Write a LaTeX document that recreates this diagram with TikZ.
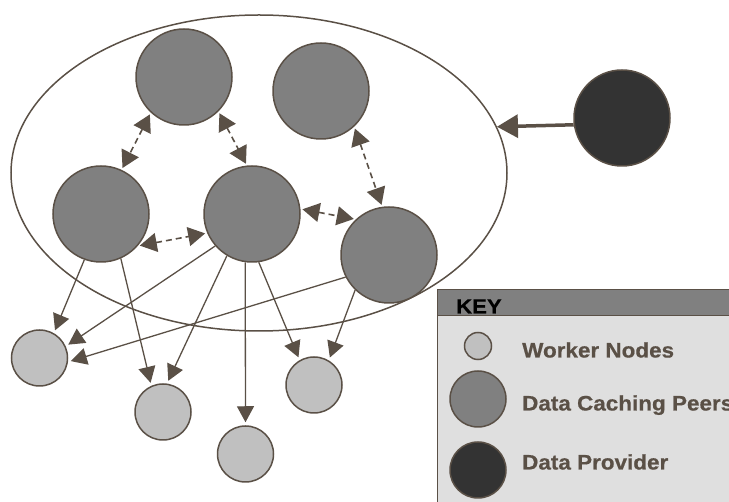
\documentclass[tikz,border=0pt]{standalone}
\usepackage{fontspec}
\setmainfont{Liberation Sans}
\newfontfamily\keyfont[FakeStretch=1.07,FakeBold=0.6]{Liberation Sans Bold}
\newfontfamily\keyhead[FakeStretch=1.08,FakeBold=0.4]{Liberation Sans Bold}
\usetikzlibrary{shapes.geometric,arrows.meta}
\definecolor{ln}{HTML}{5A5046}
\definecolor{peerc}{HTML}{808080}
\definecolor{workc}{HTML}{C0C0C0}
\definecolor{provc}{HTML}{333333}
\definecolor{keybody}{HTML}{DFDFDF}
\definecolor{keyhead}{HTML}{808080}
\begin{document}
\begin{tikzpicture}[x=1pt,y=-1pt,
  peer/.style={circle,draw=ln,line width=1.5pt,fill=peerc,minimum size=96pt,inner sep=0pt},
  worker/.style={circle,draw=ln,line width=1.5pt,fill=workc,minimum size=56pt,inner sep=0pt},
  prov/.style={circle,draw=ln,line width=1.5pt,fill=provc,minimum size=96pt,inner sep=0pt},
  sarrow/.style={draw=ln,line width=1.3pt,shorten >=3pt,-{Triangle[length=16pt,width=17pt]}},
  darrow/.style={draw=ln,line width=1.6pt,dash pattern=on 6pt off 4pt,shorten >=2pt,shorten <=2pt,{Triangle[length=17pt,width=19pt]}-{Triangle[length=17pt,width=19pt]}},
  keytext/.style={anchor=base west,text=ln,font=\keyfont\fontsize{21}{25}\selectfont,inner sep=0pt}
]
\useasboundingbox (0,0) rectangle (729,502);
% cluster ellipse
\node[ellipse,draw=ln,line width=1.5pt,minimum width=496pt,minimum height=316pt,inner sep=0pt] (E) at (259,173) {};
% peers
\node[peer] (P1) at (184,77) {};
\node[peer] (P2) at (321,91) {};
\node[peer] (P3) at (101,214) {};
\node[peer] (P4) at (252,214) {};
\node[peer] (P5) at (389,255) {};
% provider
\node[prov] (D) at (622,118) {};
% workers
\node[worker] (W1) at (39.5,358) {};
\node[worker] (W2) at (163,412) {};
\node[worker] (W3) at (245.5,454) {};
\node[worker] (W4) at (314,385) {};
% provider arrow
\draw[draw=ln,line width=3.5pt,-{Triangle[length=21pt,width=23pt]}] (D.188) -- (E.11);
% dashed peer links
\draw[darrow] (P1.227) -- (P3.65);
\draw[darrow] (P1.315) -- (P4.96);
\draw[darrow] (P2.313) -- (P5.98);
\draw[darrow] (P3.319) -- (P4.203);
\draw[darrow] (P4.6) -- (P5.133);
% peer to worker
\draw[sarrow] (P3.250) -- (W1.60);
\draw[sarrow] (P3.294) -- (W2.114);
\draw[sarrow] (P4.221) -- (W1.24);
\draw[sarrow] (P4.239) -- (W2.82);
\draw[sarrow] (P4.262) -- (W3.90);
\draw[sarrow] (P4.278) -- (W4.120);
\draw[sarrow] (P5.207) -- (W1.352);
\draw[sarrow] (P5.226) -- (W4.59);
% key
\fill[keybody] (437,316) rectangle (745,510);
\fill[keyhead] (437,290) rectangle (745,316);
\draw[ln,line width=1pt] (437,510) -- (437,290) -- (745,290);
\draw[ln,line width=1pt] (437,316) -- (745,316);
\node[anchor=base west,inner sep=0pt,font=\keyhead\fontsize{20.5}{24}\selectfont] (KEY) at (456,313.5) {KEY};
\node[circle,draw=ln,line width=1.5pt,fill=workc,minimum size=27pt,inner sep=0pt] (K1) at (478,346) {};
\node[circle,draw=ln,line width=1.5pt,fill=peerc,minimum size=56pt,inner sep=0pt] (K2) at (478,399) {};
\node[circle,draw=ln,line width=1.5pt,fill=provc,minimum size=56pt,inner sep=0pt] (K3) at (478,470) {};
\node[keytext] (T1) at (522,357.5) {Worker Nodes};
\node[keytext] (T2) at (522,410.5) {Data Caching Peers};
\node[keytext] (T3) at (522,469.5) {Data Provider};
\end{tikzpicture}
\end{document}
